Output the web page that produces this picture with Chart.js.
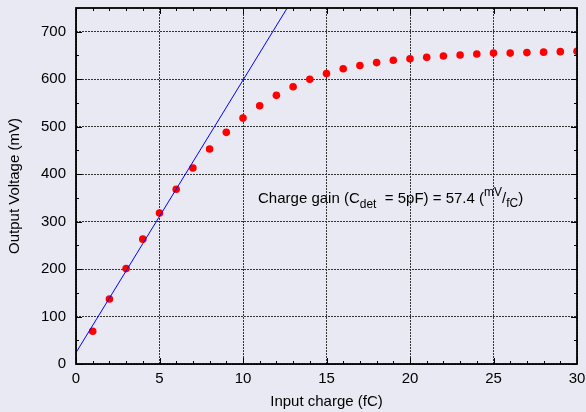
<!DOCTYPE html>
<html>
<head>
<meta charset="utf-8">
<script src="https://cdn.jsdelivr.net/npm/chart.js@4/dist/chart.umd.min.js"></script>
<style>
  html, body { margin: 0; padding: 0; background: #e9e9f3; }
  #wrap { width: 586px; height: 412px; }
</style>
</head>
<body>
<div id="wrap"><canvas id="ctx" width="586" height="412"></canvas></div>
<script>
// input charge (fC) and measured output voltage (mV)
var charge = [1, 2, 3, 4, 5, 6, 7, 8, 9, 10, 11, 12, 13, 14, 15, 16, 17, 18, 19, 20,
              21, 22, 23, 24, 25, 26, 27, 28, 29, 30];
var voltage = [69, 137, 201, 263, 318, 368, 413, 453, 488, 518, 544, 566, 584, 600, 612, 622, 629, 635, 640, 643,
               646, 649, 651, 653, 655, 655, 656, 657, 658, 659];

// linear fit over the low-charge region
var gain = 57.4;
var offset = 24;
var fitRange = [0, 14];

var xTicks = [0, 5, 10, 15, 20, 25, 30];
var yTicks = [0, 100, 200, 300, 400, 500, 600, 700];

var FONT = 'Liberation Sans, Arial, sans-serif';

var points = charge.map(function (c, i) { return { x: c, y: voltage[i] }; });
var fit = fitRange.map(function (c) { return { x: c, y: offset + gain * c }; });

// inward ticks on all four sides plus the solid frame
var framePlugin = {
    id: 'frame',
    afterDatasetsDraw: function (chart) {
        var c = chart.ctx, a = chart.chartArea;
        var xs = chart.scales.x, ys = chart.scales.y;
        c.save();
        c.strokeStyle = '#000';
        c.lineWidth = 1;
        c.beginPath();
        for (var v = 0; v <= 30; v++) {
            var px = Math.round(xs.getPixelForValue(v)) + 0.5;
            var len = v % 5 === 0 ? 6 : 3;
            c.moveTo(px, a.bottom); c.lineTo(px, a.bottom - len);
            c.moveTo(px, a.top); c.lineTo(px, a.top + len);
        }
        for (var w = 0; w <= 750; w += 50) {
            var py = Math.round(ys.getPixelForValue(w)) + 0.5;
            var l2 = w % 100 === 0 ? 6 : 3;
            c.moveTo(a.left, py); c.lineTo(a.left + l2, py);
            c.moveTo(a.right, py); c.lineTo(a.right - l2, py);
        }
        c.stroke();
        c.lineWidth = 1.8;
        c.strokeRect(a.left, a.top, a.right - a.left, a.bottom - a.top);
        c.restore();
    }
};

// gain label with sub/superscripts
var labelPlugin = {
    id: 'gainLabel',
    afterDraw: function (chart) {
        var c = chart.ctx;
        var x = chart.scales.x.getPixelForValue(10.9);
        var y = chart.scales.y.getPixelForValue(340);
        var parts = [
            ['Charge gain (C', 15, 0],
            ['det', 12, 5],
            ['  = 5pF) = ' + gain.toFixed(1) + ' (', 15, 0],
            ['mV', 12, -7],
            ['/', 15, 0],
            ['fC', 12, 4],
            [')', 15, 0]
        ];
        c.save();
        c.fillStyle = '#000';
        c.textBaseline = 'alphabetic';
        c.textAlign = 'left';
        parts.forEach(function (p) {
            c.font = p[1] + 'px ' + FONT;
            c.fillText(p[0], x, y + p[2]);
            x += c.measureText(p[0]).width;
        });
        c.restore();
    }
};

var ctx = document.getElementById('ctx').getContext('2d');

var myChart = new Chart(ctx, {
    type: 'scatter',
    data: {
        datasets: [{
            data: fit,
            showLine: true,
            borderColor: '#0000ff',
            borderWidth: 1,
            pointRadius: 0,
            fill: false
        }, {
            data: points,
            backgroundColor: '#ff0000',
            borderWidth: 0,
            pointRadius: 3.8
        }]
    },
    options: {
        responsive: false,
        animation: false,
        layout: { padding: { top: 8, right: 9, left: 0, bottom: 0 } },
        plugins: {
            legend: { display: false },
            tooltip: { enabled: false }
        },
        scales: {
            x: {
                type: 'linear',
                min: 0,
                max: 30,
                afterFit: function (s) { s.height = 48; s.paddingLeft = 0; s.paddingRight = 0; },
                afterBuildTicks: function (s) { s.ticks = xTicks.map(function (v) { return { value: v }; }); },
                ticks: { color: '#000', font: { family: FONT, size: 15 }, padding: 6, maxRotation: 0 },
                grid: { color: '#333', lineWidth: 1, drawTicks: false },
                border: { display: false, dash: [2, 1] },
                title: { display: true, text: 'Input charge (fC)', color: '#000',
                         font: { family: FONT, size: 15 }, padding: { top: 0, bottom: 1 } }
            },
            y: {
                type: 'linear',
                min: 0,
                max: 750,
                afterFit: function (s) { s.width = 76; s.paddingTop = 0; s.paddingBottom = 0; },
                afterBuildTicks: function (s) { s.ticks = yTicks.map(function (v) { return { value: v }; }); },
                ticks: { color: '#000', font: { family: FONT, size: 15 }, padding: 10 },
                grid: { color: '#333', lineWidth: 1, drawTicks: false },
                border: { display: false, dash: [2, 1] },
                title: { display: true, text: 'Output Voltage (mV)', color: '#000',
                         font: { family: FONT, size: 15 }, padding: { top: 6, bottom: 0 } }
            }
        }
    },
    plugins: [framePlugin, labelPlugin]
});
</script>
</body>
</html>
